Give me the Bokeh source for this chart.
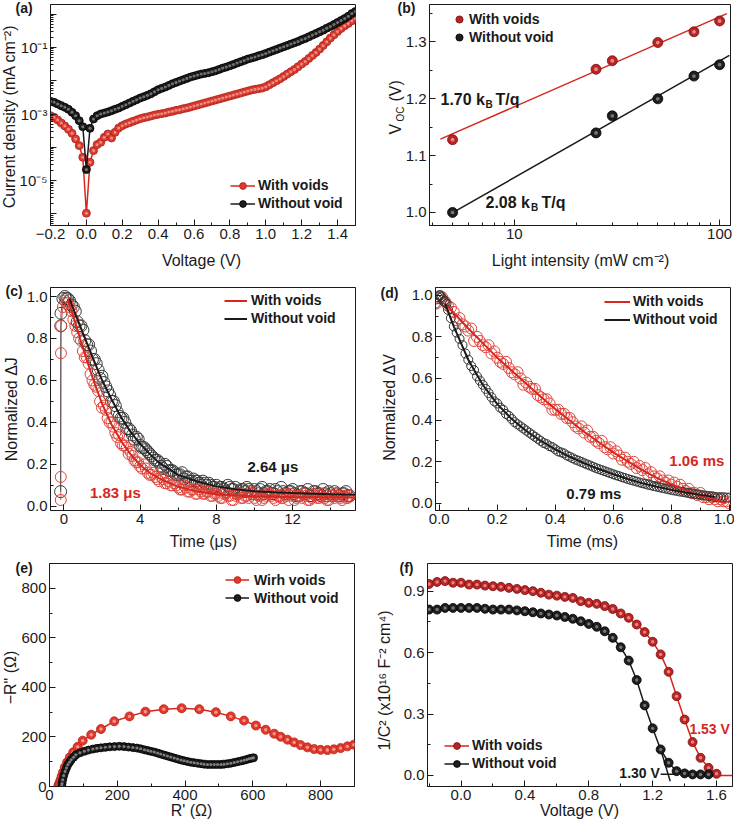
import numpy as np
from bokeh.plotting import figure
from bokeh.models import FixedTicker, Label, Legend, LegendItem, PrintfTickFormatter, GridBox
from bokeh.layouts import column, row
from bokeh.embed import file_html
from bokeh.resources import INLINE

FONT = "Liberation Sans"
INK = "#1a1a1a"
RED = "#d7261e"

# ---------------- (a) dark J-V ----------------
a_voltage = np.round(np.arange(-0.20, 1.5001, 0.02), 2)
a_with_log10 = [
    -3.05, -3.10, -3.18, -3.27, -3.36, -3.46, -3.58, -3.75, -3.95, -4.30,
    -5.98,
    -4.45, -4.10, -3.92, -3.85, -3.70, -3.60, -3.72, -3.55, -3.42, -3.35,
    -3.30, -3.26, -3.22, -3.18, -3.14, -3.11, -3.09, -3.06, -3.03, -3.01,
    -2.99, -2.97, -2.94, -2.92, -2.89, -2.87, -2.84, -2.82, -2.79, -2.76,
    -2.73, -2.70, -2.67, -2.64, -2.61, -2.58, -2.55, -2.52, -2.49, -2.46,
    -2.43, -2.40, -2.37, -2.34, -2.31, -2.28, -2.26, -2.24, -2.22, -2.18,
    -2.12, -2.06, -2.00, -1.94, -1.87, -1.80, -1.73, -1.66, -1.58, -1.50,
    -1.42, -1.33, -1.24, -1.15, -1.05, -0.94, -0.83, -0.72, -0.62, -0.52,
    -0.43, -0.35, -0.28, -0.20, -0.13]
a_without_log10 = [
    -2.62, -2.65, -2.70, -2.75, -2.80, -2.86, -2.95, -3.05, -3.20, -3.38,
    -4.67,
    -3.43, -3.15, -3.05, -3.00, -2.97, -2.94, -2.90, -2.86, -2.82, -2.77,
    -2.72, -2.67, -2.62, -2.57, -2.52, -2.48, -2.44, -2.39, -2.33, -2.27,
    -2.23, -2.19, -2.14, -2.09, -2.05, -2.01, -1.97, -1.93, -1.89, -1.86,
    -1.83, -1.80, -1.78, -1.76, -1.73, -1.70, -1.66, -1.62, -1.59, -1.55,
    -1.51, -1.47, -1.43, -1.39, -1.35, -1.32, -1.29, -1.25, -1.22, -1.18,
    -1.14, -1.10, -1.06, -1.02, -0.98, -0.94, -0.90, -0.86, -0.82, -0.77,
    -0.73, -0.68, -0.63, -0.58, -0.53, -0.48, -0.42, -0.37, -0.31, -0.25,
    -0.19, -0.13, -0.06, 0.02, 0.08]
a_with = 10.0 ** np.array(a_with_log10)
a_without = 10.0 ** np.array(a_without_log10)

# ---------------- (b) Voc vs light intensity ----------------
b_intensity = [5, 25, 30, 50, 75, 100]
b_voc_with = [1.128, 1.252, 1.267, 1.299, 1.318, 1.337]
b_voc_without = [1.000, 1.140, 1.170, 1.200, 1.240, 1.260]
b_fit_with_x = [4.36, 108.5]
b_fit_with_y = [1.129, 1.350]
b_fit_without_x = [4.91, 111.6]
b_fit_without_y = [0.998, 1.2765]

# ---------------- (c) TPC ----------------
c_rise_t_with = [-0.16, -0.16, -0.15, -0.14, -0.05, 0.05]
c_rise_with = [0.03, 0.14, 0.73, 0.86, 0.95, 0.98]
c_rise_t_without = [-0.17, -0.16, -0.15, -0.05, 0.05, 0.12]
c_rise_without = [0.07, 0.86, 0.92, 0.99, 1.00, 0.99]
c_time = np.round(np.arange(0.2, 15.001, 0.2), 1)
c_with = [0.97, 0.93, 0.86, 0.80, 0.74, 0.71, 0.63, 0.58, 0.55, 0.47,
          0.46, 0.40, 0.38, 0.33, 0.30, 0.29, 0.25, 0.24, 0.21, 0.19,
          0.20, 0.16, 0.15, 0.14, 0.12, 0.13, 0.11, 0.10, 0.11, 0.09,
          0.08, 0.09, 0.07, 0.08, 0.06, 0.07, 0.06, 0.07, 0.05, 0.06,
          0.04, 0.06, 0.05, 0.03, 0.05, 0.06, 0.04, 0.05, 0.07, 0.04,
          0.05, 0.03, 0.05, 0.06, 0.04, 0.05, 0.04, 0.06, 0.03, 0.05,
          0.04, 0.05, 0.06, 0.03, 0.04, 0.05, 0.04, 0.06, 0.03, 0.05,
          0.04, 0.05, 0.03, 0.04, 0.05]
c_without = [0.99, 0.96, 0.93, 0.86, 0.84, 0.77, 0.74, 0.70, 0.65, 0.62,
             0.57, 0.53, 0.50, 0.45, 0.42, 0.40, 0.37, 0.34, 0.33, 0.29,
             0.28, 0.26, 0.24, 0.22, 0.21, 0.18, 0.19, 0.17, 0.16, 0.15,
             0.16, 0.14, 0.12, 0.13, 0.12, 0.10, 0.11, 0.11, 0.09, 0.10,
             0.09, 0.08, 0.10, 0.08, 0.09, 0.07, 0.08, 0.09, 0.07, 0.08,
             0.06, 0.09, 0.07, 0.08, 0.06, 0.07, 0.09, 0.06, 0.07, 0.08,
             0.05, 0.07, 0.06, 0.08, 0.05, 0.07, 0.06, 0.08, 0.05, 0.06,
             0.07, 0.05, 0.06, 0.07, 0.05]
c_time_b = np.round(np.arange(0.3, 14.901, 0.2), 1)
c_with_b = [0.95, 0.89, 0.83, 0.79, 0.71, 0.68, 0.60, 0.57, 0.50, 0.48,
            0.42, 0.40, 0.35, 0.34, 0.29, 0.28, 0.26, 0.22, 0.21, 0.18,
            0.18, 0.15, 0.16, 0.13, 0.14, 0.11, 0.12, 0.10, 0.10, 0.08,
            0.10, 0.07, 0.08, 0.06, 0.08, 0.06, 0.07, 0.05, 0.06,
            0.05, 0.04, 0.06, 0.05, 0.03, 0.06, 0.04, 0.05, 0.04, 0.06,
            0.03, 0.05, 0.04, 0.06, 0.05, 0.03, 0.05, 0.04, 0.05, 0.06,
            0.03, 0.05, 0.04, 0.05, 0.03, 0.06, 0.04, 0.05, 0.04, 0.03,
            0.05, 0.06, 0.04, 0.05, 0.04]
c_without_b = [0.98, 0.95, 0.88, 0.86, 0.79, 0.77, 0.70, 0.68, 0.61, 0.59,
               0.55, 0.50, 0.48, 0.43, 0.42, 0.37, 0.36, 0.32, 0.32, 0.28,
               0.27, 0.25, 0.23, 0.22, 0.19, 0.20, 0.17, 0.17, 0.15, 0.15,
               0.13, 0.14, 0.12, 0.12, 0.11, 0.12, 0.10, 0.10, 0.09,
               0.08, 0.09, 0.07, 0.09, 0.08, 0.06, 0.08, 0.07, 0.08, 0.06,
               0.07, 0.08, 0.06, 0.07, 0.06, 0.08, 0.05, 0.07, 0.06, 0.07,
               0.06, 0.05, 0.07, 0.06, 0.05, 0.07, 0.06, 0.05, 0.06, 0.07,
               0.05, 0.06, 0.05, 0.06, 0.05]
c_fit_t_with = [0.2, 0.5, 1.0, 1.5, 2.0, 2.5, 3.0, 3.5, 4.0, 4.5, 5.0, 6.0, 7.0, 8.0, 9.0, 10.0, 12.0, 15.3]
c_fit_with = [0.99, 0.905, 0.755, 0.615, 0.49, 0.39, 0.312, 0.248, 0.197, 0.16, 0.133, 0.093, 0.071, 0.058, 0.052, 0.048, 0.044, 0.042]
c_fit_t_without = [0.3, 0.5, 1.0, 1.5, 2.0, 2.5, 3.0, 3.5, 4.0, 4.5, 5.0, 6.0, 7.0, 8.0, 9.0, 10.0, 11.0, 12.0, 13.0, 14.0, 15.3]
c_fit_without = [0.99, 0.94, 0.825, 0.712, 0.602, 0.51, 0.425, 0.355, 0.298, 0.25, 0.207, 0.15, 0.118, 0.095, 0.081, 0.072, 0.067, 0.063, 0.06, 0.057, 0.055]

# ---------------- (d) TPV ----------------
d_head_t_with = [-0.01, 0.0, 0.01, 0.02, 0.03]
d_head_with = [0.96, 0.99, 0.99, 0.97, 0.95]
d_head_t_without = [-0.012, -0.008, -0.004, 0.0, 0.004, 0.008, 0.012, 0.016, 0.02, 0.025, 0.03]
d_head_without = [0.96, 0.98, 0.99, 1.0, 1.0, 0.99, 0.98, 0.97, 0.97, 0.96, 0.93]
d_time = np.round(np.arange(0.04, 1.0001, 0.01), 2)
d_with = [0.94, 0.92, 0.88, 0.89, 0.86, 0.85, 0.83, 0.84, 0.78, 0.80,
          0.78, 0.76, 0.75, 0.76, 0.72, 0.73, 0.70, 0.68, 0.67, 0.68,
          0.65, 0.63, 0.62, 0.63, 0.60, 0.57, 0.58, 0.56, 0.55, 0.55,
          0.52, 0.51, 0.50, 0.50, 0.48, 0.45, 0.45, 0.45, 0.43, 0.43,
          0.41, 0.41, 0.39, 0.37, 0.36, 0.37, 0.34, 0.35, 0.32, 0.32,
          0.30, 0.29, 0.30, 0.27, 0.26, 0.27, 0.24, 0.25, 0.23, 0.21,
          0.22, 0.20, 0.19, 0.20, 0.17, 0.18, 0.16, 0.17, 0.14, 0.15,
          0.13, 0.12, 0.13, 0.11, 0.10, 0.11, 0.09, 0.10, 0.08, 0.09,
          0.07, 0.06, 0.07, 0.05, 0.05, 0.04, 0.05, 0.03, 0.03, 0.02,
          0.03, 0.02, 0.01, 0.02, 0.01, 0.01, 0.00]
d_without = [0.89, 0.85, 0.82, 0.79, 0.76, 0.72, 0.69, 0.66, 0.64, 0.61,
             0.59, 0.57, 0.55, 0.53, 0.51, 0.49, 0.48, 0.46, 0.45, 0.43,
             0.42, 0.405, 0.39, 0.38, 0.37, 0.36, 0.35, 0.34, 0.33, 0.32,
             0.31, 0.30, 0.29, 0.285, 0.275, 0.27, 0.26, 0.25, 0.245, 0.24,
             0.23, 0.224, 0.217, 0.21, 0.205, 0.199, 0.193, 0.187, 0.182, 0.176,
             0.17, 0.165, 0.16, 0.155, 0.15, 0.145, 0.14, 0.135, 0.131, 0.126,
             0.122, 0.117, 0.113, 0.109, 0.105, 0.101, 0.097, 0.094, 0.09, 0.087,
             0.083, 0.08, 0.077, 0.074, 0.071, 0.068, 0.065, 0.062, 0.06, 0.057,
             0.055, 0.052, 0.05, 0.048, 0.045, 0.043, 0.041, 0.039, 0.037, 0.035,
             0.033, 0.031, 0.03, 0.03, 0.03, 0.028, 0.028]
d_fit_t_with = [0.02, 0.1, 0.15, 0.2, 0.25, 0.3, 0.35, 0.4, 0.45, 0.5, 0.55, 0.6, 0.65, 0.7, 0.75, 0.8, 0.85, 0.9, 0.95, 0.99]
d_fit_with = [0.96, 0.84, 0.77, 0.70, 0.637, 0.575, 0.512, 0.453, 0.398, 0.343, 0.294, 0.245, 0.202, 0.16, 0.123, 0.092, 0.064, 0.036, 0.015, 0.002]
d_fit_t_without = [0.02, 0.05, 0.075, 0.1, 0.125, 0.15, 0.2, 0.25, 0.3, 0.35, 0.4, 0.45, 0.5, 0.55, 0.6, 0.65, 0.7, 0.75, 0.8, 0.85, 0.9, 0.95]
d_fit_without = [0.96, 0.85, 0.77, 0.69, 0.629, 0.57, 0.477, 0.405, 0.348, 0.30, 0.26, 0.224, 0.193, 0.165, 0.14, 0.117, 0.097, 0.08, 0.065, 0.052, 0.041, 0.031]

# ---------------- (e) Nyquist ----------------
e_with_re = [26, 28, 30, 33, 36, 40, 45, 52, 60, 70, 83, 98, 123, 152, 191, 236, 283, 337, 390, 442,
             491, 535, 574, 609, 638, 663, 682, 702, 722, 741, 761, 781, 800, 820, 839, 859, 879, 898]
e_with_im = [2, 8, 16, 28, 42, 58, 78, 98, 118, 138, 160, 185, 209, 232, 263, 283, 302, 312, 316, 312,
             300, 283, 266, 246, 229, 213, 201, 189, 178, 167, 158, 151, 148, 147, 150, 155, 162, 169]
e_without_re = [36, 37, 39, 42, 46, 50, 54, 59, 64, 71, 78, 90, 103, 115, 128, 140, 152, 165, 178, 192,
                206, 220, 233, 246, 258, 269, 280, 290, 299, 309, 319, 328, 338, 348, 358, 368, 378, 388, 397, 407,
                417, 427, 437, 447, 456, 466, 476, 486, 496, 506, 515, 525, 535, 545, 555, 565, 574, 582, 589, 596, 602]
e_without_im = [2, 12, 27, 44, 61, 75, 88, 98, 108, 118, 128, 136, 142, 147, 151, 154, 156, 158, 160, 161,
                162, 161, 159, 157, 155, 152, 148, 145, 142, 139, 135, 131, 127, 123, 119, 115, 111, 107, 104, 101,
                98, 96, 94, 92, 90, 89, 89, 89, 89, 89, 90, 92, 94, 97, 100, 103, 106, 109, 112, 114, 116]

# ---------------- (f) Mott-Schottky ----------------
f_voltage_with = np.round(np.arange(-0.20, 1.6001, 0.05), 2)
f_with = [0.935, 0.945, 0.949, 0.941, 0.941, 0.932, 0.932, 0.927, 0.924, 0.921,
          0.916, 0.911, 0.905, 0.900, 0.892, 0.883, 0.878, 0.872, 0.867, 0.851,
          0.843, 0.838, 0.827, 0.813, 0.791, 0.770, 0.737, 0.700, 0.653, 0.591,
          0.506, 0.387, 0.273, 0.163, 0.086, 0.037, 0.008]
f_voltage_without = np.round(np.arange(-0.20, 1.5501, 0.05), 2)
f_without = [0.810, 0.810, 0.818, 0.818, 0.818, 0.818, 0.818, 0.814, 0.810, 0.810,
             0.810, 0.806, 0.802, 0.797, 0.791, 0.786, 0.781, 0.774, 0.765, 0.753,
             0.740, 0.726, 0.704, 0.672, 0.626, 0.561, 0.466, 0.342, 0.230, 0.127,
             0.062, 0.021, 0.010, 0.005, 0.005, 0.005]
f_base_with_x = [1.53, 1.70]
f_base_with_y = [0.0, 0.0]
f_tan_without_x = [1.25, 1.31]
f_tan_without_y = [0.127, -0.028]
f_base_without_x = [1.25, 1.345]
f_base_without_y = [0.006, 0.006]

# ---------------- page texts (outside the plot frames) ----------------
panel_tags = ["(a)", "(b)", "(c)", "(d)", "(e)", "(f)"]
x_titles = ["Voltage (V)", "Light intensity (mW cm\u207b\u00b2)", "Time (\u03bcs)", "Time (ms)",
            "R' (\u03a9)", "Voltage (V)"]
y_titles = ["Current density (mA cm\u207b\u00b2)", None, "Normalized \u0394J", "Normalized \u0394V",
            "\u2212R\" (\u03a9)", "1/C\u00b2 (x10\u00b9\u2076 F\u207b\u00b2 cm\u2074)"]

PAGE_W, PAGE_H = 735, 821
ORIGIN = 8


# ---------------- helpers ----------------
def make_panel(box, frame, x_range, y_range, x_axis_type="linear", y_axis_type="linear"):
    bx, by, bw, bh = box
    L, T, R, B = frame
    p = figure(width=bw, height=bh, x_range=x_range, y_range=y_range,
               x_axis_type=x_axis_type, y_axis_type=y_axis_type,
               min_border_left=L - bx, min_border_right=bx + bw - R,
               min_border_top=T - by, min_border_bottom=by + bh - B,
               toolbar_location=None, output_backend="svg")
    p.grid.visible = False
    p.outline_line_color = INK
    p.outline_line_width = 1
    p.background_fill_color = "white"
    p.border_fill_color = "white"
    for ax in (p.xaxis[0], p.yaxis[0]):
        ax.axis_line_color = INK
        ax.major_tick_line_color = INK
        ax.minor_tick_line_color = INK
        ax.major_tick_in = 6
        ax.major_tick_out = 0
        ax.minor_tick_in = 3
        ax.minor_tick_out = 0
        ax.major_label_text_font = FONT
        ax.major_label_text_font_size = "15px"
        ax.major_label_text_color = INK
        ax.major_label_standoff = 3
    return p


def data_label(p, x, y, text, color=INK, align="left", size="15px"):
    p.add_layout(Label(x=x, y=y, text=text, text_font=FONT, text_font_size=size,
                       text_font_style="bold", text_color=color, text_align=align,
                       text_baseline="middle"))


def frame_label(p, frame, px, py, text, size="16px", color=INK):
    L, T, R, B = frame
    p.add_layout(Label(x=px - L, y=B - py, x_units="screen", y_units="screen", text=text,
                       text_font=FONT, text_font_size=size, text_font_style="bold",
                       text_color=color, text_align="left", text_baseline="middle"))


def balls(p, x, y, size, fill, edge, hl):
    r1 = p.scatter(x=x, y=y, size=size, marker="circle", fill_color=fill, line_color=edge, line_width=0.8)
    p.scatter(x=x, y=y, size=size * 0.38, marker="circle", fill_color=hl, line_color=None, fill_alpha=0.8)
    return r1


def add_legend(p, frame, items, left, top, glyph_width, standoff, row_h=17, spacing=1):
    L, T, R, B = frame
    n = len(items)
    height = n * row_h + (n - 1) * spacing
    leg = Legend(items=items, location=(left - L, B - (top + height)))
    leg.padding = 0
    leg.margin = 0
    leg.spacing = spacing
    leg.glyph_height = row_h
    leg.label_height = row_h
    leg.glyph_width = glyph_width
    leg.label_standoff = standoff
    leg.border_line_color = None
    leg.background_fill_alpha = 0
    leg.label_text_font = FONT
    leg.label_text_font_style = "bold"
    leg.label_text_font_size = "14px"
    leg.label_text_color = INK
    p.add_layout(leg)


# ---------------- panel (a) ----------------
FA = (58, 12, 363, 233)
pa = make_panel((8, 8, 367, 274), FA, (-0.2, 1.5), (10 ** -6.35, 10 ** 0.29), y_axis_type="log")
pa.xaxis.ticker = FixedTicker(ticks=[-0.2, 0.0, 0.2, 0.4, 0.6, 0.8, 1.0, 1.2, 1.4],
                              minor_ticks=[-0.1, 0.1, 0.3, 0.5, 0.7, 0.9, 1.1, 1.3, 1.5])
pa.xaxis.formatter = PrintfTickFormatter(format="%.1f")
pa.xaxis.major_label_overrides = {-0.2: "\u22120.2"}
decades = [1e-6, 1e-5, 1e-4, 1e-3, 1e-2, 1e-1, 1e0]
minor_log = [k * 10.0 ** n for n in range(-7, 1) for k in range(2, 10)]
pa.yaxis.ticker = FixedTicker(ticks=decades, minor_ticks=minor_log)
pa.yaxis.major_label_overrides = {1e-6: "", 1e-5: "10\u207b\u2075", 1e-4: "", 1e-3: "10\u207b\u00b3",
                                  1e-2: "", 1e-1: "10\u207b\u00b9", 1e0: ""}
la1 = pa.line(a_voltage, a_with, line_color=RED, line_width=1.5)
ra1 = balls(pa, a_voltage, a_with, 8, "#dd3b2f", "#b0221a", "#f4a49a")
la2 = pa.line(a_voltage, a_without, line_color=INK, line_width=1.5)
ra2 = balls(pa, a_voltage, a_without, 8, "#1e1e1e", "#000000", "#8a8a8a")
add_legend(pa, FA, [LegendItem(label="With voids", renderers=[la1, ra1]),
                    LegendItem(label="Without void", renderers=[la2, ra2])], 238, 184.8, 25, 3)

# ---------------- panel (b) ----------------
FB = (437, 12, 738, 233)
pb = make_panel((375, 8, 367, 274), FB, (3.86, 113), (0.977, 1.366), x_axis_type="log")
pb.xaxis.ticker = FixedTicker(ticks=[10, 100], minor_ticks=[4, 5, 6, 7, 8, 9, 20, 30, 40, 50, 60, 70, 80, 90])
pb.xaxis.major_label_overrides = {10: "10", 100: "100"}
pb.yaxis.ticker = FixedTicker(ticks=[1.0, 1.1, 1.2, 1.3], minor_ticks=[1.05, 1.15, 1.25, 1.35])
pb.yaxis.formatter = PrintfTickFormatter(format="%.1f")
pb.line(b_fit_with_x, b_fit_with_y, line_color=RED, line_width=1.5)
pb.line(b_fit_without_x, b_fit_without_y, line_color=INK, line_width=1.5)
rb1 = balls(pb, b_intensity, b_voc_with, 10, "#b82424", "#7a1010", "#f0a0a0")
rb2 = balls(pb, b_intensity, b_voc_without, 10, "#1e1e1e", "#000000", "#8a8a8a")
add_legend(pb, FB, [LegendItem(label="With voids", renderers=[rb1]),
                    LegendItem(label="Without void", renderers=[rb2])], 458, 18.3, 18, 1, row_h=18, spacing=0)
frame_label(pb, FB, 448, 106.7, "1.70 k")
frame_label(pb, FB, 493, 111.5, "B", size="10px")
frame_label(pb, FB, 503, 106.7, "T/q")
frame_label(pb, FB, 493, 210, "2.08 k")
frame_label(pb, FB, 538.5, 215, "B", size="10px")
frame_label(pb, FB, 549, 210, "T/q")

# ---------------- panel (c) ----------------
FC = (58, 293, 363, 518)
pc = make_panel((8, 282, 367, 275), FC, (-0.7, 15.3), (-0.02, 1.043))
pc.xaxis.ticker = FixedTicker(ticks=[0, 4, 8, 12], minor_ticks=[2, 6, 10, 14])
pc.yaxis.ticker = FixedTicker(ticks=[0.0, 0.2, 0.4, 0.6, 0.8, 1.0], minor_ticks=[0.1, 0.3, 0.5, 0.7, 0.9])
pc.yaxis.formatter = PrintfTickFormatter(format="%.1f")
pc.line(c_rise_t_with, c_rise_with, line_color="#e0605a", line_width=1)
pc.line(c_rise_t_without, c_rise_without, line_color="#555555", line_width=1)
for tt, vv in ((c_rise_t_without, c_rise_without), (c_time, c_without), (c_time_b, c_without_b)):
    pc.scatter(tt, vv, size=12, marker="circle", fill_color=None, line_color="#3a3a3a", line_width=1)
for tt, vv in ((c_rise_t_with, c_rise_with), (c_time, c_with), (c_time_b, c_with_b)):
    pc.scatter(tt, vv, size=11, marker="circle", fill_color=None, line_color="#e0453c", line_width=1)
lc1 = pc.line(c_fit_t_with, c_fit_with, line_color=RED, line_width=2)
lc2 = pc.line(c_fit_t_without, c_fit_without, line_color=INK, line_width=2)
add_legend(pc, FC, [LegendItem(label="With voids", renderers=[lc1]),
                    LegendItem(label="Without void", renderers=[lc2])], 232, 299.8, 23, 4)
data_label(pc, 9.63, 0.19, "2.64 \u03bcs", color=INK)
data_label(pc, 1.37, 0.066, "1.83 \u03bcs", color=RED)

# ---------------- panel (d) ----------------
FD = (443, 295, 738, 518)
pd_ = make_panel((375, 282, 367, 275), FD, (-0.013, 1.004), (-0.034, 1.037))
pd_.xaxis.ticker = FixedTicker(ticks=[0.0, 0.2, 0.4, 0.6, 0.8, 1.0], minor_ticks=[0.1, 0.3, 0.5, 0.7, 0.9])
pd_.xaxis.formatter = PrintfTickFormatter(format="%.1f")
pd_.yaxis.ticker = FixedTicker(ticks=[0.0, 0.2, 0.4, 0.6, 0.8, 1.0], minor_ticks=[0.1, 0.3, 0.5, 0.7, 0.9])
pd_.yaxis.formatter = PrintfTickFormatter(format="%.1f")
pd_.scatter(d_head_t_with, d_head_with, size=11, marker="circle", fill_color=None, line_color="#e0453c", line_width=1)
pd_.scatter(d_time, d_with, size=11, marker="circle", fill_color=None, line_color="#e0453c", line_width=1)
pd_.scatter(d_head_t_without, d_head_without, size=9, marker="circle", fill_color=None, line_color="#333333", line_width=1)
pd_.scatter(d_time, d_without, size=9, marker="circle", fill_color=None, line_color="#333333", line_width=1)
ld1 = pd_.line(d_fit_t_with, d_fit_with, line_color=RED, line_width=2)
ld2 = pd_.line(d_fit_t_without, d_fit_without, line_color=INK, line_width=2)
add_legend(pd_, FD, [LegendItem(label="With voids", renderers=[ld1]),
                     LegendItem(label="Without void", renderers=[ld2])], 612, 300.8, 26, 3)
data_label(pd_, 0.793, 0.206, "1.06 ms", color=RED)
data_label(pd_, 0.438, 0.05, "0.79 ms", color=INK)

# ---------------- panel (e) ----------------
FE = (57, 571, 362, 794)
pe = make_panel((8, 557, 367, 272), FE, (0, 900), (0, 900))
pe.xaxis.ticker = FixedTicker(ticks=[0, 200, 400, 600, 800], minor_ticks=[100, 300, 500, 700, 900])
pe.yaxis.ticker = FixedTicker(ticks=[0, 200, 400, 600, 800], minor_ticks=[100, 300, 500, 700, 900])
le1 = pe.line(e_with_re, e_with_im, line_color=RED, line_width=1.5)
re1 = balls(pe, e_with_re, e_with_im, 9, "#e2382b", "#b8251b", "#f8b0a8")
le2 = pe.line(e_without_re, e_without_im, line_color=INK, line_width=1.5)
re2 = balls(pe, e_without_re, e_without_im, 8, "#1e1e1e", "#000000", "#9a9a9a")
add_legend(pe, FE, [LegendItem(label="Wirh voids", renderers=[le1, re1]),
                    LegendItem(label="Without void", renderers=[le2, re2])], 233, 579.2, 24, 5)

# ---------------- panel (f) ----------------
FF = (435, 571, 740, 794)
pf = make_panel((375, 557, 367, 272), FF, (-0.21, 1.70), (-0.054, 1.035))
pf.xaxis.ticker = FixedTicker(ticks=[0.0, 0.4, 0.8, 1.2, 1.6], minor_ticks=[-0.2, 0.2, 0.6, 1.0, 1.4])
pf.xaxis.formatter = PrintfTickFormatter(format="%.1f")
pf.yaxis.ticker = FixedTicker(ticks=[0.0, 0.3, 0.6, 0.9], minor_ticks=[0.15, 0.45, 0.75])
pf.yaxis.formatter = PrintfTickFormatter(format="%.1f")
pf.line(f_base_with_x, f_base_with_y, line_color=RED, line_width=1.5)
pf.line(f_tan_without_x, f_tan_without_y, line_color=INK, line_width=1.5)
pf.line(f_base_without_x, f_base_without_y, line_color=INK, line_width=1.5)
lf1 = pf.line(f_voltage_with, f_with, line_color=RED, line_width=1.5)
rf1 = balls(pf, f_voltage_with, f_with, 9, "#bb2424", "#7a1010", "#f0a0a0")
lf2 = pf.line(f_voltage_without, f_without, line_color=INK, line_width=1.5)
rf2 = balls(pf, f_voltage_without, f_without, 9, "#1e1e1e", "#000000", "#8a8a8a")
add_legend(pf, FF, [LegendItem(label="With voids", renderers=[lf1, rf1]),
                    LegendItem(label="Without void", renderers=[lf2, rf2])], 452, 744.8, 25, 3)
data_label(pf, 1.43, 0.225, "1.53 V", color=RED, size="14px")
data_label(pf, 1.245, 0.013, "1.30 V", color=INK, align="right", size="14px")

# ---------------- transparent text layer over the whole grid ----------------
ov = figure(width=PAGE_W, height=PAGE_H, x_range=(0, PAGE_W), y_range=(PAGE_H, 0),
            toolbar_location=None, output_backend="svg", min_border=0,
            x_axis_location=None, y_axis_location=None)
ov.grid.visible = False
ov.outline_line_color = None
ov.background_fill_color = None
ov.border_fill_color = None


def page_text(px, py, text, size="16px", bold=False, color=INK, align="center", angle=0.0):
    ov.add_layout(Label(x=px - ORIGIN, y=py - ORIGIN, text=text, text_font=FONT, text_font_size=size,
                        text_font_style="bold" if bold else "normal", text_color=color,
                        text_align=align, text_baseline="middle", angle=angle))


tag_pos = [(23, 15), (405, 15), (13, 298), (388, 300), (23, 575), (407, 575)]
xt_pos = [(209, 268), (588, 268), (211, 549), (590, 549), (199, 818), (587, 818)]
yt_pos = [(17, 124), None, (19, 416.7), (396.5, 415), (17.5, 685), (391.5, 688)]
for tag, (tx, ty) in zip(panel_tags, tag_pos):
    page_text(tx, ty, tag, size="14px", bold=True, align="left")
for txt, (tx, ty) in zip(x_titles, xt_pos):
    page_text(tx, ty, txt)
for txt, pos in zip(y_titles, yt_pos):
    if txt is not None:
        page_text(pos[0], pos[1], txt, angle=np.pi / 2)
# V_OC (V) for panel (b)
page_text(402.5, 136.7, "V", angle=np.pi / 2)
page_text(407.5, 121.5, "OC", size="10px", angle=np.pi / 2)
page_text(402.5, 98.3, "(V)", angle=np.pi / 2)

panels = column(row(pa, pb), row(pc, pd_), row(pe, pf))
layout = GridBox(children=[(panels, 0, 0), (ov, 0, 0)])
open("out.html", "w").write(file_html(layout, INLINE))
